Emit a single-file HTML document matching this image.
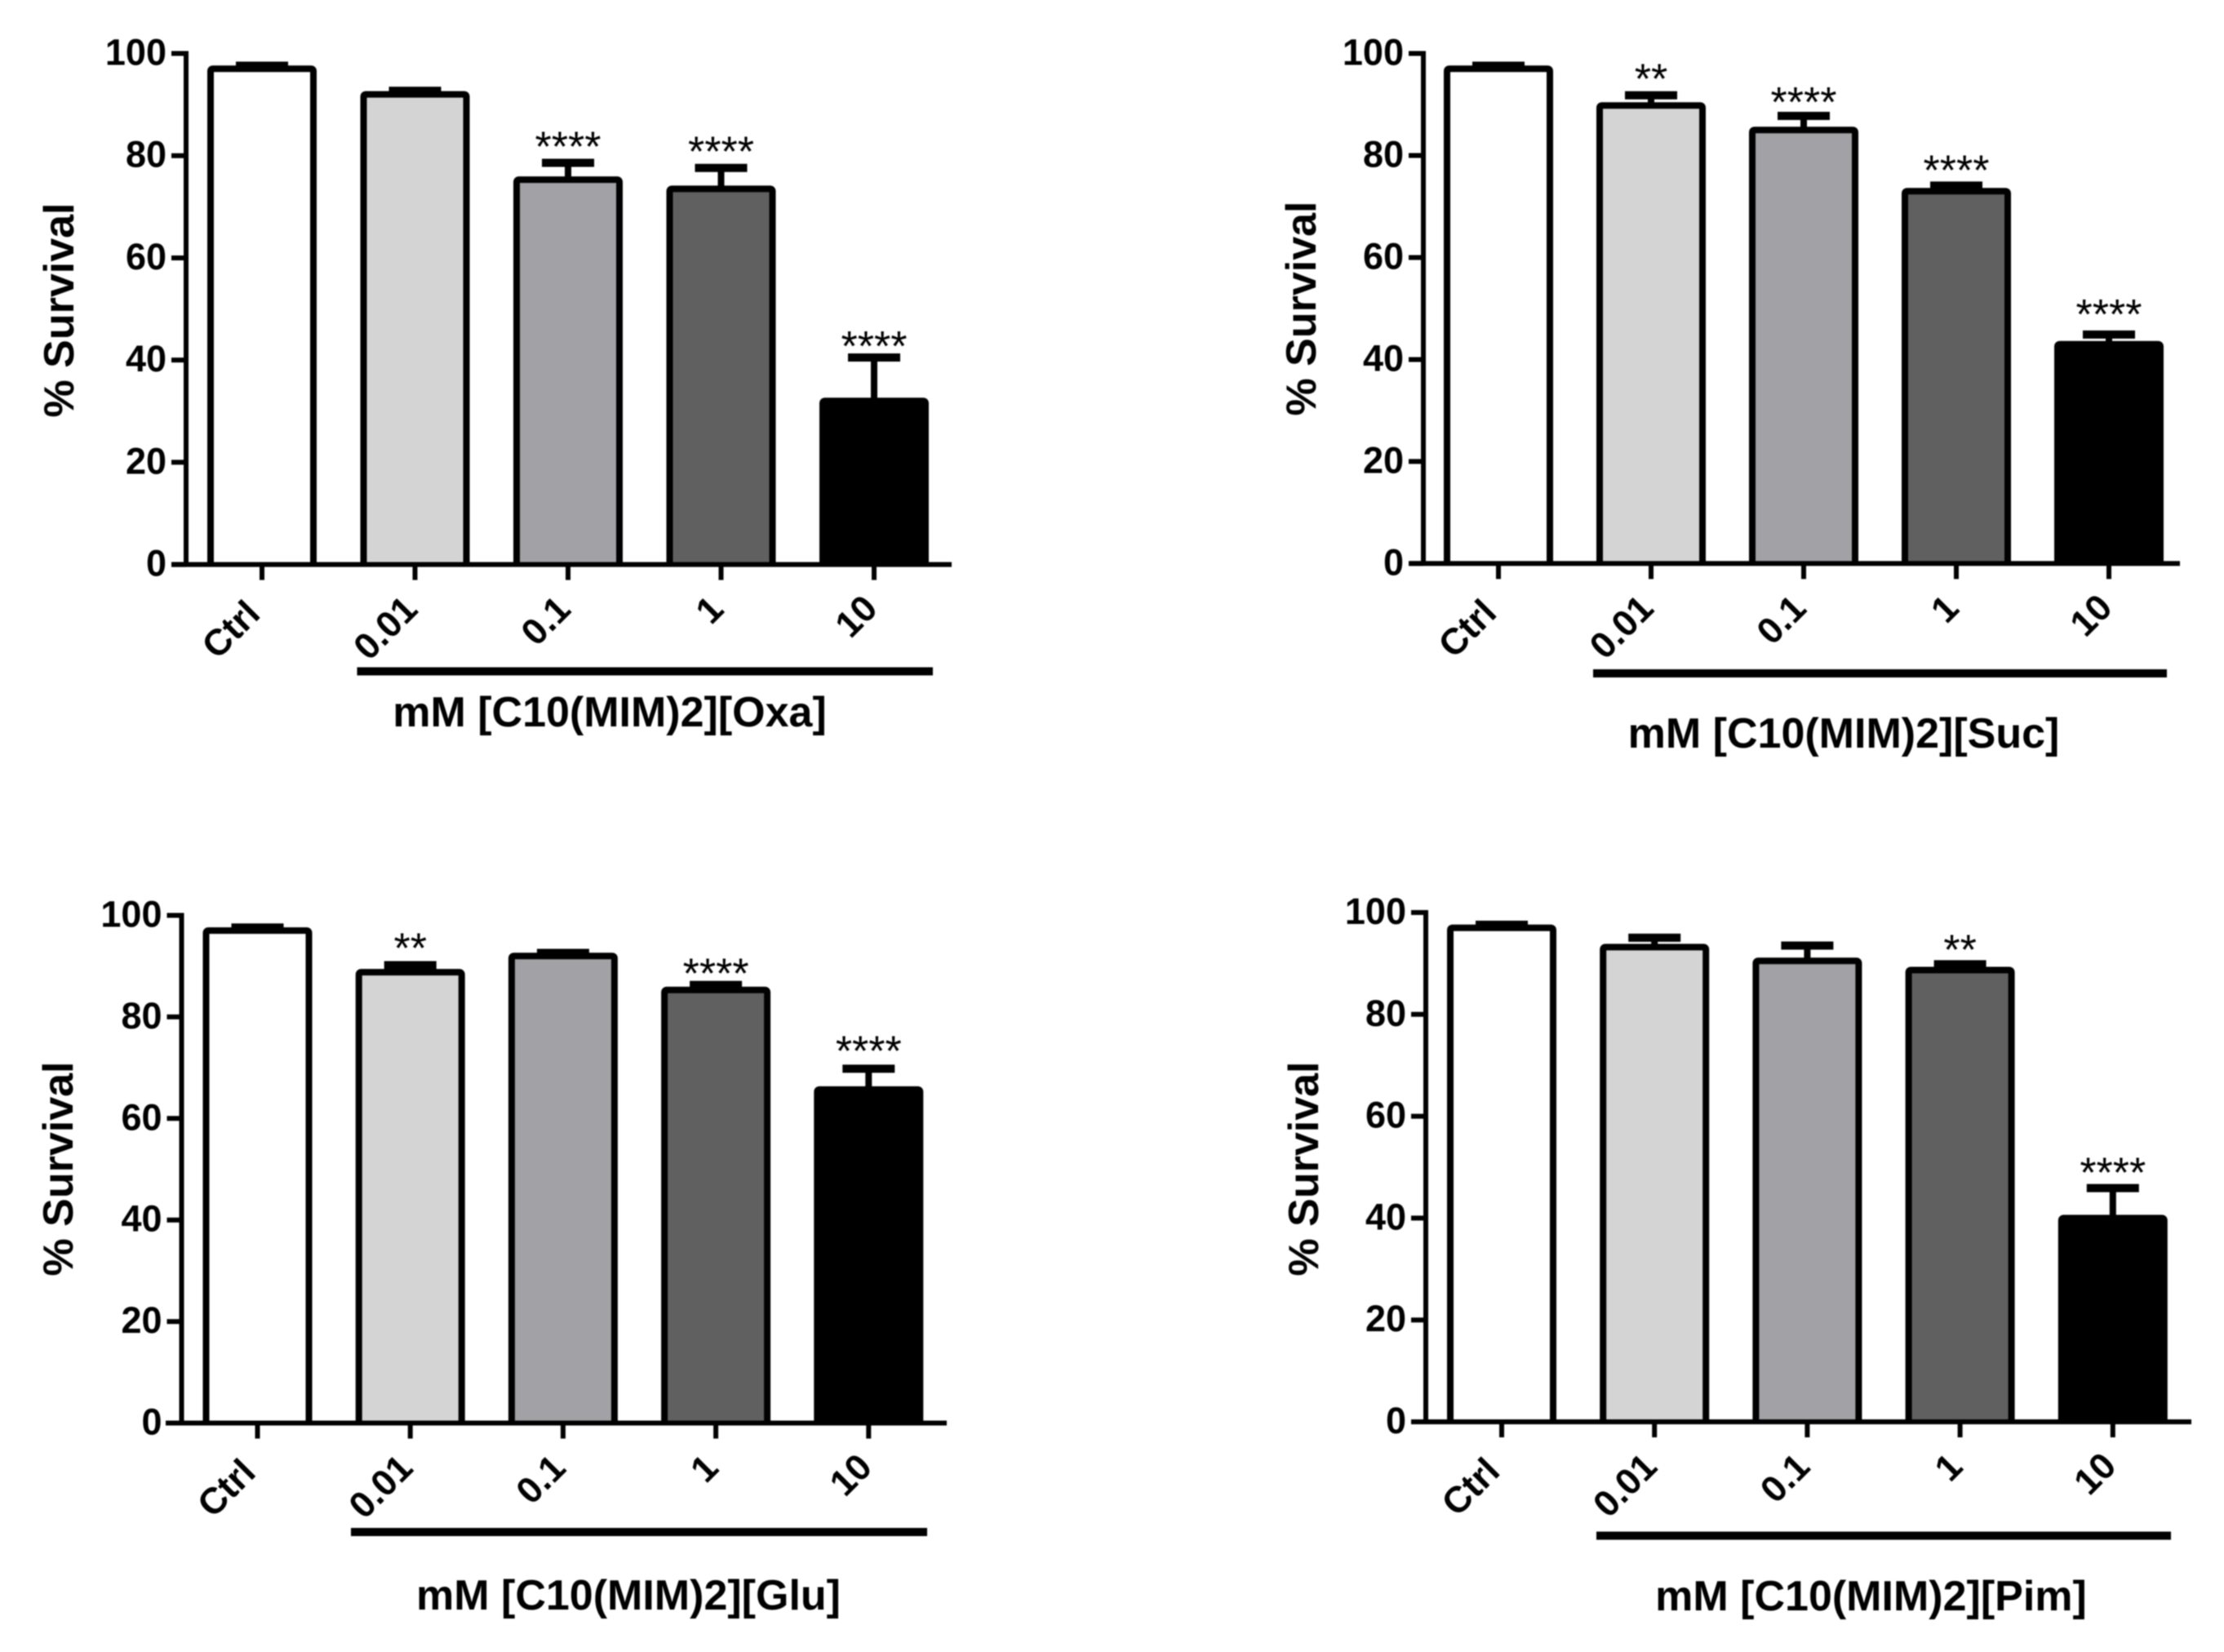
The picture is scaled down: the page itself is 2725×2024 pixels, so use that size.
<!DOCTYPE html>
<html lang="en">
<head>
<meta charset="utf-8">
<title>% Survival bar charts</title>
<style>
html,body{margin:0;padding:0;background:#fff;}
body{width:2725px;height:2024px;overflow:hidden;}
svg{display:block;filter:blur(0.9px);}
text{font-family:"Liberation Sans",Arial,sans-serif;fill:#000;}
</style>
</head>
<body>
<svg id="figure" xmlns="http://www.w3.org/2000/svg" width="2725" height="2024" viewBox="0 0 2725 2024"></svg>
<script>
const categories = ["Ctrl", "0.01", "0.1", "1", "10"];
const yTickLabels = [0, 20, 40, 60, 80, 100];
const barFills = ["#ffffff", "#d4d4d4", "#a2a1a5", "#606060", "#000000"];

const oxaValues = [97, 92, 75.3, 73.5, 32];
const oxaErrors = [0.6, 0.7, 3.3, 4.1, 8.5];
const oxaSignificance = ["", "", "****", "****", "****"];

const sucValues = [97, 89.8, 85, 73, 43];
const sucErrors = [0.6, 2, 2.75, 1.1, 1.9];
const sucSignificance = ["", "**", "****", "****", "****"];

const gluValues = [97, 88.8, 92, 85.3, 65.7];
const gluErrors = [0.6, 1.4, 0.6, 1, 4.1];
const gluSignificance = ["", "**", "", "****", "****"];

const pimValues = [97, 93.2, 90.5, 88.7, 40];
const pimErrors = [0.6, 1.85, 3, 1.15, 5.9];
const pimSignificance = ["", "", "", "**", "****"];

const labelShift = [2, 7.5, 7.5, 7.5, 8.5];

const panels = [
  {key:"oxa", title:"mM [C10(MIM)2][Oxa]", values:oxaValues, errors:oxaErrors, sig:oxaSignificance, starNudge:[0,0,0,0,6],
   axisX:228, yTop:65.5, yZero:691.6, baseL:210, baseR:1166, firstX:321, stepX:187.5,
   ulL:437.5, ulR:1143, ulY:822.5, titleX:747, titleY:890, yTitleX:90, yTitleY:380},
  {key:"suc", title:"mM [C10(MIM)2][Suc]", values:sucValues, errors:sucErrors, sig:sucSignificance, starNudge:[0,0,3,1,-5],
   axisX:1744, yTop:65.5, yZero:690.4, baseL:1727, baseR:2671, firstX:1836, stepX:187,
   ulL:1952, ulR:2655, ulY:825, titleX:2259, titleY:916, yTitleX:1612, yTitleY:378},
  {key:"glu", title:"mM [C10(MIM)2][Glu]", values:gluValues, errors:gluErrors, sig:gluSignificance, starNudge:[0,-1,0,6,-2],
   axisX:222.5, yTop:1121.5, yZero:1743.5, baseL:203, baseR:1160, firstX:315.5, stepX:187.2,
   ulL:430, ulR:1136, ulY:1877, titleX:770, titleY:1972, yTitleX:89, yTitleY:1432},
  {key:"pim", title:"mM [C10(MIM)2][Pim]", values:pimValues, errors:pimErrors, sig:pimSignificance, starNudge:[0,0,0,2,1],
   axisX:1747, yTop:1118, yZero:1742, baseL:1731, baseR:2685, firstX:1840, stepX:187.2,
   ulL:1956, ulR:2660, ulY:1881.5, titleX:2292.5, titleY:1973, yTitleX:1615, yTitleY:1432}
];

const NS = "http://www.w3.org/2000/svg";
const figure = document.getElementById("figure");

function make(tag, parent, attrs, content) {
  const el = document.createElementNS(NS, tag);
  for (const k in attrs) el.setAttribute(k, attrs[k]);
  if (content !== undefined) el.textContent = content;
  parent.appendChild(el);
  return el;
}

panels.forEach(function (p) {
  const yScale = function (v) { return p.yZero - (v / 100) * (p.yZero - p.yTop); };
  const xScale = function (i) { return p.firstX + i * p.stepX; };

  const g = make("g", figure, {});
  
  

  // bars, error bars, significance
  p.values.forEach(function (v, i) {
    const x = xScale(i);
    const t = yScale(v);
    const top = yScale(v + p.errors[i]);
    const l = x - 63;
    const r = x + 63;
    const z = p.yZero;

    const stem = make("line", g, {x1:x, x2:x, y1:t, y2:top, stroke:"#000", "stroke-width":8});
    
    

    const cap = make("line", g, {x1:x - 32, x2:x + 32, y1:top, y2:top, stroke:"#000", "stroke-width":10});
    
    

    const d = "M" + l + "," + z + " V" + (t + 3) + " Q" + l + "," + t + " " + (l + 3) + "," + t +
      " H" + (r - 3) + " Q" + r + "," + t + " " + r + "," + (t + 3) + " V" + z;
    const bar = make("path", g, {d:d, fill:barFills[i], stroke:"#000", "stroke-width":8});
    
    

    if (p.sig[i]) {
      const star = make("text", g, {x:x, y:top - 2 + p.starNudge[i], "text-anchor":"middle", "font-size":52, fill:"#222"}, p.sig[i]);
      
      
    }

    const tick = make("line", g, {x1:x, x2:x, y1:z, y2:z + 19, stroke:"#000", "stroke-width":6});
    
    

    const lx = x - 2 + labelShift[i];
    const ly = z + 65 - labelShift[i];
    const lab = make("text", g, {x:lx, y:ly, "text-anchor":"end", "font-size":45, "font-weight":"bold",
      transform:"rotate(-45 " + lx + " " + ly + ")"}, categories[i]);
    
    
  });

  // axes
  const yAxis = make("line", g, {x1:p.axisX, x2:p.axisX, y1:p.yTop - 3, y2:p.yZero, stroke:"#000", "stroke-width":6});
  
  

  const xAxis = make("line", g, {x1:p.baseL, x2:p.baseR, y1:p.yZero, y2:p.yZero, stroke:"#000", "stroke-width":6});
  
  

  yTickLabels.forEach(function (t) {
    const y = yScale(t);
    const tick = make("line", g, {x1:p.axisX - 18, x2:p.axisX, y1:y, y2:y, stroke:"#000", "stroke-width":6});
    
    

    const lab = make("text", g, {x:p.axisX - 24, y:y + 14, "text-anchor":"end", "font-size":45, "font-weight":"bold"}, String(t));
    
    
  });

  // y title
  const yTitle = make("text", g, {x:p.yTitleX, y:p.yTitleY, "text-anchor":"middle", "font-size":52, "font-weight":"bold",
    transform:"rotate(-90 " + p.yTitleX + " " + p.yTitleY + ")"}, "% Survival");
  
  

  // concentration bracket and title
  const under = make("line", g, {x1:p.ulL, x2:p.ulR, y1:p.ulY, y2:p.ulY, stroke:"#000", "stroke-width":10});
  
  

  const xTitle = make("text", g, {x:p.titleX, y:p.titleY, "text-anchor":"middle", "font-size":52, "font-weight":"bold"}, p.title);
  
  
});
</script>
</body>
</html>
